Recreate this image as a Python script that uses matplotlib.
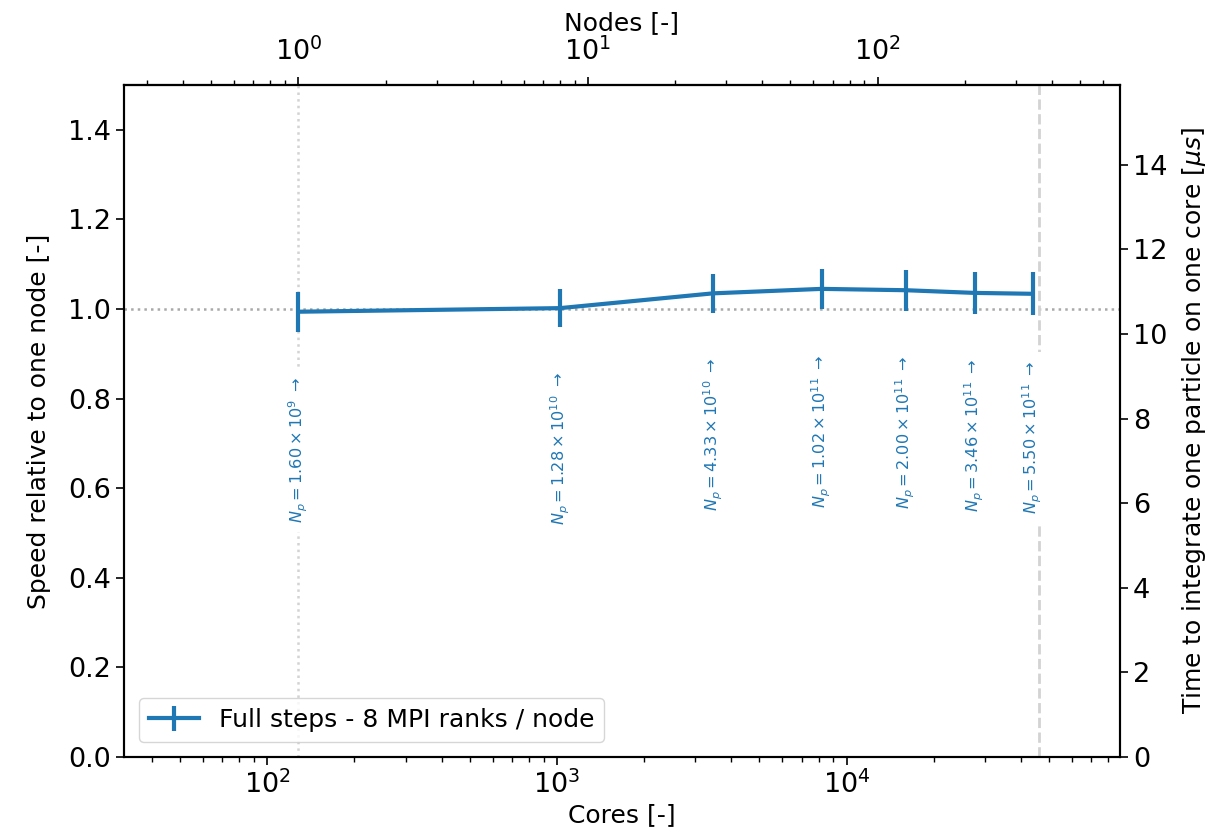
import matplotlib
matplotlib.use("Agg")
import matplotlib.pyplot as plt
import numpy as np

# ---- data ----
nodes = [1, 8, 27, 64, 125, 216, 343]
cores_per_node = 128
cores = [n * cores_per_node for n in nodes]
speed = [0.994, 1.002, 1.035, 1.045, 1.042, 1.036, 1.034]
speed_err = [0.045, 0.043, 0.043, 0.045, 0.046, 0.047, 0.048]
n_particles = ["1.60\\times10^{9}", "1.28\\times10^{10}", "4.33\\times10^{10}",
               "1.02\\times10^{11}", "2.00\\times10^{11}", "3.46\\times10^{11}",
               "5.50\\times10^{11}"]
machine_cores = 46080
time_one_node = 10.59  # microseconds, right axis at speed 1.0
series_label = "Full steps - 8 MPI ranks / node"
node_ticks = [1, 10, 100]
node_ticklabels = [r"$10^{0}$", r"$10^{1}$", r"$10^{2}$"]

fig = plt.figure(figsize=(12.26, 8.32), dpi=100)
ax = fig.add_axes([0.1011, 0.0901, 0.9135 - 0.1011, 0.8978 - 0.0901])

ax.set_xscale("log")
xmin, xmax = cores[0] / 4, cores[-1] * 2
ax.set_xlim(xmin, xmax)
ax.set_ylim(0, 1.5)

# reference lines
ax.axhline(1.0, color="darkgray", ls=":", lw=1.8, zorder=1)
ax.axvline(cores[0], color="lightgray", ls=":", lw=1.8, zorder=1)
ax.axvline(machine_cores, color="lightgray", ls="--", lw=2.0, zorder=1)

ax.errorbar(cores, speed, yerr=speed_err, color="C0", lw=3.0, elinewidth=3.0,
            capsize=0, label=series_label, zorder=3)

for c, s, e, npt in zip(cores, speed, speed_err, n_particles):
    ax.text(c, s - e - 0.1, r"$N_p = %s$ $\rightarrow$" % npt, rotation=90,
            ha="center", va="top", color="C0", fontsize=11.6, zorder=2,
            bbox=dict(facecolor="white", edgecolor="none", pad=6.0))

ax.set_xlabel("Cores [-]", fontsize=18, labelpad=3)
ax.set_ylabel("Speed relative to one node [-]", fontsize=18, labelpad=12)
ax.set_yticks(np.arange(0, 1.41, 0.2))
ax.yaxis.set_major_formatter(matplotlib.ticker.FormatStrFormatter("%.1f"))

leg = ax.legend(loc="lower left", fontsize=18, framealpha=0.8,
                borderpad=0.4, handlelength=2.0, borderaxespad=0.6)

# right axis
ax2 = ax.twinx()
ax2.set_ylim(0, 1.5 * time_one_node)
ax2.set_yticks(np.arange(0, 15, 2))
ax2.set_ylabel(r"Time to integrate one particle on one core [$\mu s$]", fontsize=18,
               labelpad=9)

# top axis
sec = ax.secondary_xaxis("top", functions=(lambda x: x / cores_per_node,
                                           lambda x: x * cores_per_node))
sec.set_xticks(node_ticks)
sec.set_xticklabels(node_ticklabels)
sec.set_xlabel("Nodes [-]", fontsize=18, labelpad=5)

for a in (ax, ax2):
    for sp in a.spines.values():
        sp.set_linewidth(1.5)
for a in (ax, ax2, sec):
    a.tick_params(which="major", length=6.0, width=1.2, labelsize=19.5)
    a.tick_params(which="minor", length=3.4, width=1.0)
sec.tick_params(which="major", pad=8)
sec.spines["top"].set_linewidth(1.5)

fig.savefig("out.png", dpi=100)
